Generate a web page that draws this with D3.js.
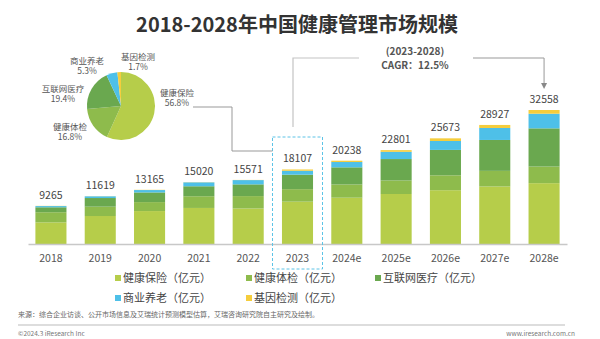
<!DOCTYPE html>
<html>
<head>
<meta charset="utf-8">
<script src="https://cdn.jsdelivr.net/npm/d3@7"></script>
<style>
  body { margin: 0; background: #fff; }
  text { font-family: "Noto Sans CJK SC", "Noto Sans", sans-serif; }
</style>
</head>
<body>
<svg width="600" height="339"></svg>
<script>
var years = ["2018", "2019", "2020", "2021", "2022", "2023", "2024e", "2025e", "2026e", "2027e", "2028e"];
var totals = [9265, 11619, 13165, 15020, 15571, 18107, 20238, 22801, 25673, 28927, 32558];
var seriesNames = ["健康保险", "健康体检", "互联网医疗", "商业养老", "基因检测"];
var insurance = [5250, 6800, 8000, 8760, 8630, 10285, 11250, 12150, 13070, 13970, 14780];
var checkup = [2470, 2270, 2180, 2840, 3010, 3042, 3210, 3290, 3610, 3800, 4040];
var internet = [1200, 2100, 2350, 2430, 2850, 3513, 4170, 5200, 6180, 7510, 9280];
var pension = [300, 420, 580, 950, 1040, 960, 1290, 1760, 2165, 2910, 3560];
var gene = [45, 29, 55, 40, 41, 307, 318, 401, 648, 737, 898];
var pieShares = [56.8, 16.8, 19.4, 5.3, 1.7];
var colors = ["#b6cd4a", "#8ebb4c", "#6aa84f", "#4ec0e8", "#f5cd3c"];

var svg = d3.select("svg");

// title
svg.append("text")
    .attr("x", 297).attr("y", 32)
    .attr("text-anchor", "middle")
    .attr("font-size", 20).attr("font-weight", "bold")
    .attr("fill", "#333")
    .text("2018-2028年中国健康管理市场规模");

var rows = years.map(function (y, i) {
  return { year: y, s0: insurance[i], s1: checkup[i], s2: internet[i], s3: pension[i], s4: gene[i] };
});
var stack = d3.stack().keys(["s0", "s1", "s2", "s3", "s4"]);
var layers = stack(rows);

var x = d3.scaleBand().domain(years).range([28, 567]).paddingInner(0.37).paddingOuter(0.15);
var y = d3.scaleLinear().domain([0, 32558]).range([244, 110]);

svg.append("g").selectAll("g")
    .data(layers)
    .join("g")
    .attr("fill", function (d, i) { return colors[i]; })
    .selectAll("rect")
    .data(function (d) { return d; })
    .join("rect")
    .attr("x", function (d) { return x(d.data.year); })
    .attr("y", function (d) { return y(d[1]); })
    .attr("height", function (d) { return y(d[0]) - y(d[1]); })
    .attr("width", x.bandwidth());

// totals
svg.append("g").selectAll("text")
    .data(totals)
    .join("text")
    .attr("x", function (d, i) { return x(years[i]) + x.bandwidth() / 2; })
    .attr("y", function (d) { return y(d) - 7; })
    .attr("text-anchor", "middle")
    .attr("font-size", 10.5)
    .attr("fill", "#444")
    .text(function (d) { return d; });

// axis
var axis = svg.append("g")
    .attr("transform", "translate(0,244)")
    .call(d3.axisBottom(x).tickSize(0).tickPadding(11));
axis.select(".domain").attr("stroke", "#c8c8c8").attr("stroke-width", 1.5);
axis.selectAll("text").attr("font-size", 10.5).attr("fill", "#555")
    .attr("font-family", "'Noto Sans CJK SC', sans-serif");

// dashed box on 2023
var bx = x("2023") + x.bandwidth() / 2;
svg.append("rect")
    .attr("x", bx - 25).attr("y", 137)
    .attr("width", 50).attr("height", 132)
    .attr("fill", "none")
    .attr("stroke", "#5cc3e6").attr("stroke-width", 1)
    .attr("stroke-dasharray", "3,2");

// pie
var pie = d3.pie().sort(null).value(function (d) { return d; });
var arc = d3.arc().innerRadius(0).outerRadius(34);
var pg = svg.append("g").attr("transform", "translate(121,106)");
pg.selectAll("path")
    .data(pie(pieShares))
    .join("path")
    .attr("d", arc)
    .attr("fill", function (d, i) { return colors[i]; });

var pieLabels = [
  { x: 177, y: 93 },
  { x: 70, y: 127 },
  { x: 63, y: 89 },
  { x: 87, y: 61 },
  { x: 138, y: 57 }
];
pieLabels.forEach(function (p, i) {
  svg.append("text")
      .attr("x", p.x).attr("y", p.y).attr("dy", "0.35em")
      .attr("text-anchor", "middle")
      .attr("font-size", 8.5).attr("fill", "#555")
      .text(seriesNames[i]);
  svg.append("text")
      .attr("x", p.x).attr("y", p.y + 10.5).attr("dy", "0.35em")
      .attr("text-anchor", "middle")
      .attr("font-size", 8.5).attr("fill", "#555")
      .text(pieShares[i] + "%");
});

// connector from pie to 2023
svg.append("path")
    .attr("d", "M193,107H232V151H" + (bx - 25))
    .attr("fill", "none").attr("stroke", "#999").attr("stroke-width", 1);

// CAGR annotation
var lastX = x("2028e") + x.bandwidth() / 2;
svg.append("path")
    .attr("d", "M293,127V58H359")
    .attr("fill", "none").attr("stroke", "#c4c4c4").attr("stroke-width", 1.2);
svg.append("path")
    .attr("d", "M473,58H" + lastX + "V84")
    .attr("fill", "none").attr("stroke", "#999").attr("stroke-width", 1);
svg.append("path")
    .attr("d", "M" + (lastX - 3) + ",83L" + (lastX + 3) + ",83L" + lastX + ",89Z")
    .attr("fill", "#888");
svg.append("text")
    .attr("x", 415).attr("y", 55)
    .attr("text-anchor", "middle")
    .attr("font-size", 10).attr("font-weight", "bold").attr("fill", "#555")
    .text("(2023-2028)");
svg.append("text")
    .attr("x", 415).attr("y", 69)
    .attr("text-anchor", "middle")
    .attr("font-size", 10).attr("font-weight", "bold").attr("fill", "#555")
    .text("CAGR：12.5%");

// legend
var legendPos = [[115, 278], [246, 278], [375, 278], [115, 298], [246, 298]];
var lg = svg.append("g").selectAll("g")
    .data(seriesNames)
    .join("g")
    .attr("transform", function (d, i) { return "translate(" + legendPos[i][0] + "," + legendPos[i][1] + ")"; });
lg.append("rect")
    .attr("x", 0).attr("y", -3)
    .attr("width", 6).attr("height", 6)
    .attr("fill", function (d, i) { return colors[i]; });
lg.append("text")
    .attr("x", 8).attr("y", 0).attr("dy", "0.35em")
    .attr("font-size", 11).attr("fill", "#444")
    .text(function (d) { return d + "（亿元）"; });

// footer
svg.append("text")
    .attr("x", 18).attr("y", 315).attr("dy", "0.35em")
    .attr("font-size", 7).attr("fill", "#666")
    .text("来源：综合企业访谈、公开市场信息及艾瑞统计预测模型估算，艾瑞咨询研究院自主研究及绘制。");
svg.append("line")
    .attr("x1", 18).attr("x2", 565).attr("y1", 325).attr("y2", 325)
    .attr("stroke", "#bbb").attr("stroke-width", 1);
svg.append("text")
    .attr("x", 18).attr("y", 334).attr("dy", "0.35em")
    .attr("font-size", 6.5).attr("fill", "#777")
    .text("©2024.3 iResearch Inc");
svg.append("text")
    .attr("x", 575).attr("y", 334).attr("dy", "0.35em")
    .attr("text-anchor", "end")
    .attr("font-size", 6.5).attr("fill", "#777")
    .text("www.iresearch.com.cn");
</script>
</body>
</html>
